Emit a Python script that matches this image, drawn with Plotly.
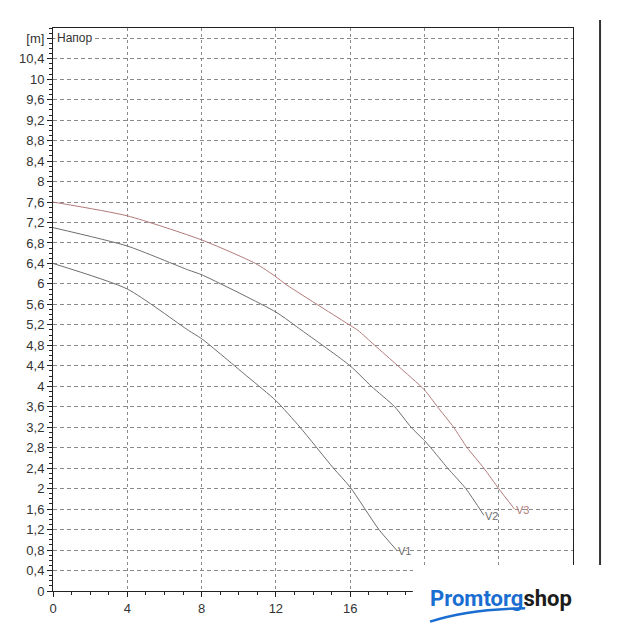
import plotly.graph_objects as go

# ---- data ----
v1_q = [0, 4, 7.3, 8, 10.5, 12, 13.3, 15.1, 16, 17.55, 18.5]
v1_h = [6.4, 5.9, 5.09, 4.93, 4.18, 3.72, 3.2, 2.4, 2.03, 1.2, 0.8]

v2_q = [0, 4, 7.3, 8, 12, 13.4, 16, 17.14, 18.4, 19.28, 20, 20.34, 21.25, 22.23, 23.2]
v2_h = [7.1, 6.74, 6.27, 6.18, 5.45, 5.09, 4.4, 4.0, 3.6, 3.2, 2.94, 2.8, 2.4, 2.0, 1.48]

v3_q = [0, 4, 8, 10.9, 12, 12.5, 16, 16.43, 17.32, 18.57, 20, 20.7, 21.57, 22.3, 23.2, 24.0, 24.85]
v3_h = [7.6, 7.33, 6.86, 6.4, 6.14, 6.0, 5.19, 5.09, 4.8, 4.4, 3.93, 3.6, 3.2, 2.8, 2.4, 2.0, 1.6]

series_names = ["V1", "V2", "V3"]
series_colors = ["#6e6e6e", "#6e6e6e", "#b27a7a"]

y_tickvals = [round(0.4 * i, 1) for i in range(28)]
y_ticktext = [("%g" % v).replace(".", ",") for v in y_tickvals[:-1]] + ["[m]"]
x_tickvals = [0, 4, 8, 12, 16, 20, 24]
x_ticktext = ["0", "4", "8", "12", "16", "", ""]

fig = go.Figure()
for q, h, name, col in zip([v1_q, v2_q, v3_q], [v1_h, v2_h, v3_h], series_names, series_colors):
    fig.add_trace(go.Scatter(x=q, y=h, mode="lines",
                             line=dict(color=col, width=1, shape="spline", smoothing=0.6),
                             showlegend=False, hoverinfo="skip"))
    fig.add_annotation(x=q[-1], y=h[-1], text=name, showarrow=False, xanchor="left",
                       yanchor="middle", xshift=-1, yshift=-1,
                       font=dict(family="Liberation Sans", size=11, color=col))

fig.add_annotation(xref="paper", x=0, y=10.8, text="Напор", showarrow=False,
                   xanchor="left", yanchor="middle", xshift=2, bgcolor="white",
                   font=dict(family="Liberation Sans", size=12, color="#333"))

axis_font = dict(family="Liberation Sans", size=13, color="#333")
fig.update_xaxes(range=[0, 28], tickmode="array", tickvals=x_tickvals, ticktext=x_ticktext,
                 ticks="outside", ticklen=5, tickcolor="#222", showline=True, linecolor="#222",
                 linewidth=1, mirror=True, showgrid=True, gridcolor="#8a8a8a", griddash="3px,3px",
                 gridwidth=1, zeroline=False, tickfont=axis_font,
                 minor=dict(tickmode="linear", tick0=0, dtick=1, ticks="outside", ticklen=3,
                            tickcolor="#222", showgrid=False))
fig.update_yaxes(range=[0, 11], tickmode="array", tickvals=y_tickvals, ticktext=y_ticktext,
                 ticks="outside", ticklen=5, tickcolor="#222", showline=True, linecolor="#222",
                 linewidth=1, mirror=True, showgrid=True, gridcolor="#8a8a8a", griddash="4px,3px",
                 gridwidth=1, zeroline=False, tickfont=axis_font,
                 minor=dict(tickmode="linear", tick0=0, dtick=0.1, ticks="outside", ticklen=3,
                            tickcolor="#222", showgrid=False))

# white block in the lower right (logo area) and the separate vertical rule
fig.add_shape(type="rect", xref="paper", yref="paper", x0=0.692, x1=1.2, y0=0.046, y1=-0.2,
              fillcolor="white", line=dict(width=0), layer="above")
fig.add_shape(type="line", xref="paper", yref="paper", x0=1.052, x1=1.052, y0=0.046, y1=1.014,
              line=dict(color="#333", width=2), layer="above")
fig.add_shape(type="path", xref="paper", yref="paper",
              path="M 0.725 -0.0545 Q 0.80 -0.032 0.908 -0.0307",
              line=dict(color="#1b6ed1", width=2.5), layer="above")
fig.add_annotation(xref="paper", yref="paper", x=0.721, y=-0.0125, xanchor="left", yanchor="middle",
                   showarrow=False,
                   text="<b><span style='color:#1b6ed1'>Promtorg</span><span style='color:#1c1c1c'>shop</span></b>",
                   font=dict(family="Roboto", size=22))

fig.update_layout(width=620, height=640, margin=dict(l=45, r=55, t=20, b=57),
                  plot_bgcolor="white", paper_bgcolor="white")
fig.write_html("out.html")
